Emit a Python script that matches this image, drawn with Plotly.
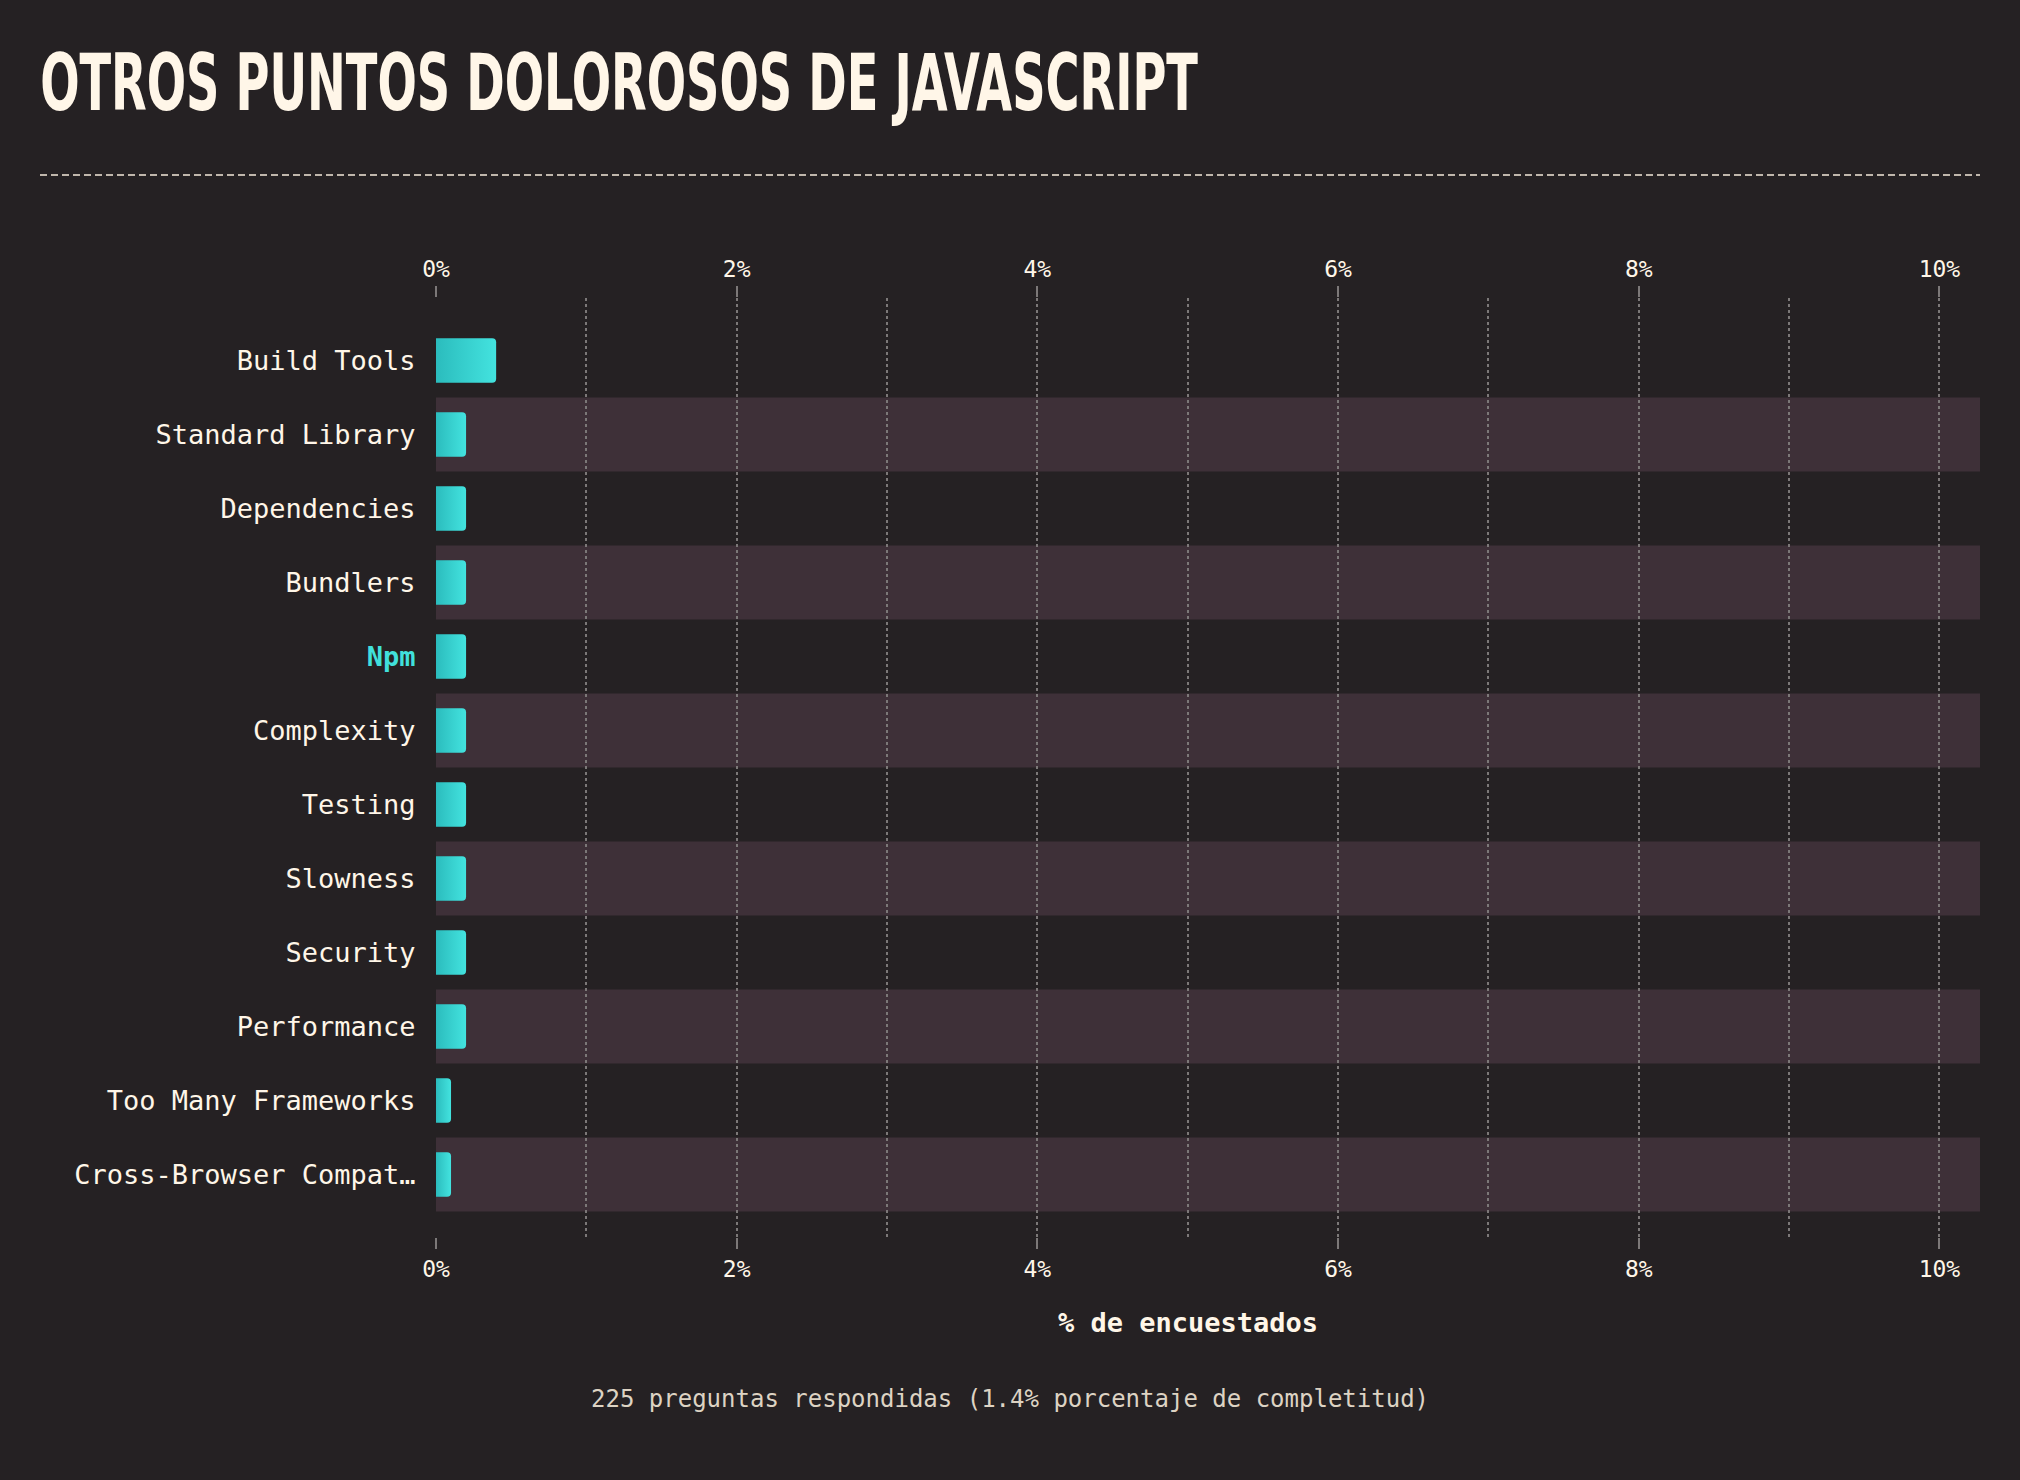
import plotly.graph_objects as go

W, H = 2020, 1480

categories = [
    "Build Tools", "Standard Library", "Dependencies", "Bundlers", "Npm",
    "Complexity", "Testing", "Slowness", "Security", "Performance",
    "Too Many Frameworks", "Cross-Browser Compat…",
]
values = [0.4, 0.2, 0.2, 0.2, 0.2, 0.2, 0.2, 0.2, 0.2, 0.2, 0.1, 0.1]
highlight = "Npm"
tick_vals = [0, 2, 4, 6, 8, 10]
tick_text = ["0%", "2%", "4%", "6%", "8%", "10%"]

title_text = "OTROS PUNTOS DOLOROSOS DE JAVASCRIPT"
axis_title = "% de encuestados"
footer_text = "225 preguntas respondidas (1.4% porcentaje de completitud)"

BG = "#252123"
BAND = "#3e3038"
CREAM = "#fff6e8"
CYAN = "#3ad6d4"
GRID = "#7c7878"
MONO = "DejaVu Sans Mono, Liberation Mono, monospace"

# plot area in pixels
PX0, PX1 = 436, 1980
PY0, PY1 = 298, 1237
XMAX = 10.27
n = len(categories)
pad = 0.5 + 0.345

ticktext_y = [
    f"<b><span style='color:#41e0dc'>{c}</span></b>" if c == highlight else c
    for c in categories
]

fig = go.Figure()
fig.add_trace(go.Bar(
    x=values, y=categories, orientation="h", width=0.6,
    marker=dict(color=CYAN, cornerradius=4, line=dict(width=0)),
    xaxis="x", yaxis="y", hoverinfo="x+y",
))
# invisible trace to anchor the bottom axis
fig.add_trace(go.Scatter(
    x=[0, XMAX], y=[categories[0], categories[0]], mode="markers",
    marker=dict(opacity=0), xaxis="x2", yaxis="y", hoverinfo="skip",
    showlegend=False,
))

shapes = []
for i, c in enumerate(categories):
    if i % 2 == 1:
        shapes.append(dict(
            type="rect", xref="x domain", yref="y", x0=0, x1=1,
            y0=i - 0.5, y1=i + 0.5, fillcolor=BAND, line=dict(width=0),
            layer="below",
        ))
shapes.append(dict(
    type="line", xref="paper", yref="paper",
    x0=40 / W, x1=1980 / W, y0=1 - 175 / H, y1=1 - 175 / H,
    line=dict(color="#f3e9da", width=1.5, dash="7px,4px"),
))

common_x = dict(
    range=[0, XMAX], domain=[PX0 / W, PX1 / W],
    tickvals=tick_vals, ticktext=tick_text,
    tickfont=dict(family=MONO, size=23, color=CREAM),
    ticks="outside", ticklen=11, tickwidth=2, tickcolor=GRID,
    showline=False, zeroline=False, fixedrange=True, automargin=False,
)

fig.update_layout(
    width=W, height=H,
    margin=dict(l=0, r=0, t=0, b=0, autoexpand=False),
    paper_bgcolor=BG, plot_bgcolor=BG,
    showlegend=False,
    xaxis=dict(
        **common_x, side="top", anchor="y",
        showgrid=True, gridcolor=GRID, gridwidth=1.5, griddash="dot",
        minor=dict(dtick=1, tick0=0, showgrid=True, gridcolor=GRID,
                   gridwidth=1.5, griddash="dot", ticks=""),
    ),
    xaxis2=dict(
        **common_x, side="bottom", overlaying="x", anchor="y",
        showgrid=False,
    ),
    yaxis=dict(
        domain=[1 - PY1 / H, 1 - PY0 / H],
        range=[n - 1 + pad, -pad],
        type="category",
        tickvals=categories, ticktext=ticktext_y,
        tickfont=dict(family=MONO, size=27, color=CREAM),
        ticks="outside", ticklen=14, tickcolor="rgba(0,0,0,0)",
        showgrid=False, showline=False, zeroline=False, fixedrange=True,
        automargin=False,
    ),
    shapes=shapes,
    annotations=[
        dict(text=title_text, xref="paper", yref="paper",
             x=38 / W, y=1 - 36 / H, xanchor="left", yanchor="top",
             showarrow=False,
             font=dict(family="DejaVu Sans Condensed, DejaVu Sans, sans-serif",
                       size=66, color=CREAM, weight=700)),
        dict(text=f"<b>{axis_title}</b>", xref="x", yref="paper",
             x=5, y=1 - 1322 / H, xanchor="center", yanchor="middle",
             showarrow=False,
             font=dict(family=MONO, size=27, color=CREAM)),
        dict(text=footer_text, xref="paper", yref="paper",
             x=0.5, y=1 - 1399 / H, xanchor="center", yanchor="middle",
             showarrow=False,
             font=dict(family=MONO, size=24, color="#ddd3c3")),
    ],
)

# narrow, tall display title and left-to-right bar gradient
post = """
var gd = document.getElementById('{plot_id}');
function styleChart(){
  var t = gd.querySelector('.annotation[data-index="0"] text.annotation-text');
  if (t) {
    t.style.transformBox = 'fill-box';
    t.style.transformOrigin = '0 0';
    t.style.transform = 'scale(0.78,1.18)';
  }
  var svg = gd.querySelector('svg.main-svg');
  if (svg && !document.getElementById('barGrad')) {
    var ns = 'http://www.w3.org/2000/svg';
    var defs = svg.querySelector('defs') || svg.insertBefore(document.createElementNS(ns, 'defs'), svg.firstChild);
    var g = document.createElementNS(ns, 'linearGradient');
    g.setAttribute('id', 'barGrad');
    g.setAttribute('x1', '0'); g.setAttribute('y1', '0');
    g.setAttribute('x2', '1'); g.setAttribute('y2', '0');
    var s1 = document.createElementNS(ns, 'stop');
    s1.setAttribute('offset', '0'); s1.setAttribute('stop-color', '#2bbcbd');
    var s2 = document.createElementNS(ns, 'stop');
    s2.setAttribute('offset', '1'); s2.setAttribute('stop-color', '#43e3df');
    g.appendChild(s1); g.appendChild(s2); defs.appendChild(g);
  }
  gd.querySelectorAll('.trace.bars .point path').forEach(function(p){
    p.style.fill = 'url(#barGrad)';
  });
}
styleChart();
if (gd.on) { gd.on('plotly_afterplot', styleChart); }
"""

fig.write_html("out.html", post_script=post)
